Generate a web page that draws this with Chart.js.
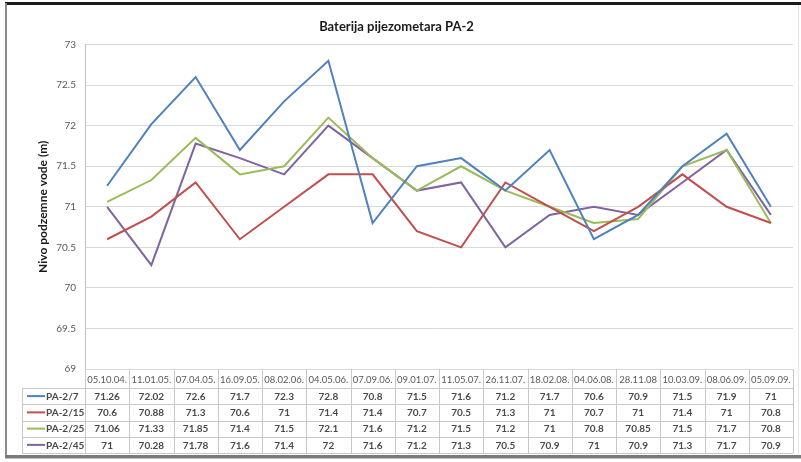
<!DOCTYPE html>
<html>
<head>
<meta charset="utf-8">
<script src="https://cdn.jsdelivr.net/npm/chart.js@4/dist/chart.umd.min.js"></script>
<style>
  html, body { margin: 0; padding: 0; background: #ffffff; }
  #wrap { position: relative; width: 801px; height: 462px; }
  canvas { display: block; }
</style>
</head>
<body>
<div id="wrap"><canvas id="c" width="801" height="462"></canvas></div>
<script>
const categories = ["05.10.04.", "11.01.05.", "07.04.05.", "16.09.05.", "08.02.06.", "04.05.06.", "07.09.06.", "09.01.07.", "11.05.07.", "26.11.07.", "18.02.08.", "04.06.08.", "28.11.08", "10.03.09.", "08.06.09.", "05.09.09."];
const seriesNames = ["PA-2/7", "PA-2/15", "PA-2/25", "PA-2/45"];
const pa2_7  = [71.26, 72.02, 72.6, 71.7, 72.3, 72.8, 70.8, 71.5, 71.6, 71.2, 71.7, 70.6, 70.9, 71.5, 71.9, 71];
const pa2_15 = [70.6, 70.88, 71.3, 70.6, 71, 71.4, 71.4, 70.7, 70.5, 71.3, 71, 70.7, 71, 71.4, 71, 70.8];
const pa2_25 = [71.06, 71.33, 71.85, 71.4, 71.5, 72.1, 71.6, 71.2, 71.5, 71.2, 71, 70.8, 70.85, 71.5, 71.7, 70.8];
const pa2_45 = [71, 70.28, 71.78, 71.6, 71.4, 72, 71.6, 71.2, 71.3, 70.5, 70.9, 71, 70.9, 71.3, 71.7, 70.9];
const yTicks = [69, 69.5, 70, 70.5, 71, 71.5, 72, 72.5, 73];
const colors = ["#4F81BD", "#C0504D", "#9BBB59", "#8064A2"];
const seriesData = [pa2_7, pa2_15, pa2_25, pa2_45];

const FONT = "Lato, 'Open Sans', 'DejaVu Sans', sans-serif";

const framePlugin = {
  id: 'frame',
  beforeDraw(chart) {
    const ctx = chart.ctx;
    ctx.save();
    ctx.fillStyle = '#ffffff';
    ctx.fillRect(0, 0, chart.width, chart.height);
    ctx.fillStyle = '#1a1a1a';
    ctx.fillRect(5, 2, chart.width - 5, 3);
    ctx.fillStyle = '#8a8a8a';
    ctx.fillRect(5, 3, 2, 454);
    ctx.fillStyle = '#7a7a7a';
    ctx.fillRect(5, 455, chart.width - 5, 3);
    ctx.fillStyle = '#bdbdbd';
    ctx.fillRect(5, 458, chart.width - 5, 1);
    ctx.fillStyle = '#e6e6e6';
    ctx.fillRect(chart.width - 3, 5, 1, 450);
    ctx.restore();
  }
};

const tablePlugin = {
  id: 'dataTable',
  afterDraw(chart) {
    const ctx = chart.ctx;
    const xs = chart.scales.x;
    const area = chart.chartArea;
    const n = categories.length;
    const colW = (area.right - area.left) / n;
    const headTop = area.bottom;
    const headBot = area.bottom + 19;
    const rowH = 16.25;
    const tableBot = headBot + rowH * seriesNames.length;
    const legLeft = 22;
    ctx.save();
    ctx.strokeStyle = '#c8c8c8';
    ctx.lineWidth = 1;
    for (let i = 0; i <= n; i++) {
      const x = Math.round(area.left + i * colW) + 0.5;
      ctx.beginPath();
      ctx.moveTo(x, headTop);
      ctx.lineTo(x, tableBot);
      ctx.stroke();
    }
    ctx.beginPath();
    ctx.moveTo(legLeft + 0.5, headBot);
    ctx.lineTo(legLeft + 0.5, tableBot);
    ctx.stroke();
    for (let r = 0; r <= seriesNames.length; r++) {
      const y = Math.round(headBot + r * rowH) + 0.5;
      ctx.beginPath();
      ctx.moveTo(legLeft, y);
      ctx.lineTo(area.right, y);
      ctx.stroke();
    }
    ctx.fillStyle = '#595959';
    ctx.font = "9.5px " + FONT;
    ctx.textAlign = 'center';
    ctx.textBaseline = 'middle';
    categories.forEach((c, i) => {
      ctx.fillText(c, xs.getPixelForValue(i), (headTop + headBot) / 2 + 1);
    });
    seriesNames.forEach((name, r) => {
      const yc = headBot + r * rowH + rowH / 2;
      ctx.strokeStyle = colors[r];
      ctx.lineWidth = 2;
      ctx.beginPath();
      ctx.moveTo(27, yc);
      ctx.lineTo(45, yc);
      ctx.stroke();
      ctx.fillStyle = '#4a4a4a';
      ctx.font = "bold 10px " + FONT;
      ctx.textAlign = 'left';
      ctx.fillText(name, 46, yc + 0.5);
      ctx.textAlign = 'center';
      seriesData[r].forEach((v, i) => {
        ctx.fillText(String(v), xs.getPixelForValue(i), yc + 0.5);
      });
    });
    ctx.restore();
  }
};

new Chart(document.getElementById('c'), {
  type: 'line',
  data: {
    labels: categories,
    datasets: seriesNames.map((name, i) => ({
      label: name,
      data: seriesData[i],
      borderColor: colors[i],
      backgroundColor: colors[i],
      borderWidth: 2,
      pointRadius: 0,
      pointHoverRadius: 0,
      tension: 0,
      fill: false
    }))
  },
  options: {
    responsive: false,
    animation: false,
    devicePixelRatio: 1,
    layout: { padding: { left: 0, right: 8, top: 0, bottom: 93 } },
    plugins: {
      legend: { display: false },
      tooltip: { enabled: false },
      title: {
        display: true,
        text: 'Baterija pijezometara PA-2',
        color: '#1a1a1a',
        font: { family: FONT, size: 13, weight: 'bold' },
        padding: { top: 19, bottom: 10 }
      }
    },
    scales: {
      x: {
        type: 'category',
        offset: true,
        display: false
      },
      y: {
        min: 69,
        max: 73,
        afterBuildTicks(scale) { scale.ticks = yTicks.map(v => ({ value: v })); },
        afterFit(scale) { scale.width = 85; },
        ticks: {
          color: '#595959',
          font: { family: FONT, size: 10 },
          padding: 9,
          callback: v => String(v)
        },
        grid: {
          color: '#d9d9d9',
          drawTicks: false
        },
        border: { color: '#bfbfbf' },
        title: {
          display: true,
          text: 'Nivo podzemne vode (m)',
          color: '#1a1a1a',
          font: { family: FONT, size: 12, weight: 'bold' },
          padding: { top: 36, bottom: 0 }
        }
      }
    }
  },
  plugins: [framePlugin, tablePlugin]
});
</script>
</body>
</html>
